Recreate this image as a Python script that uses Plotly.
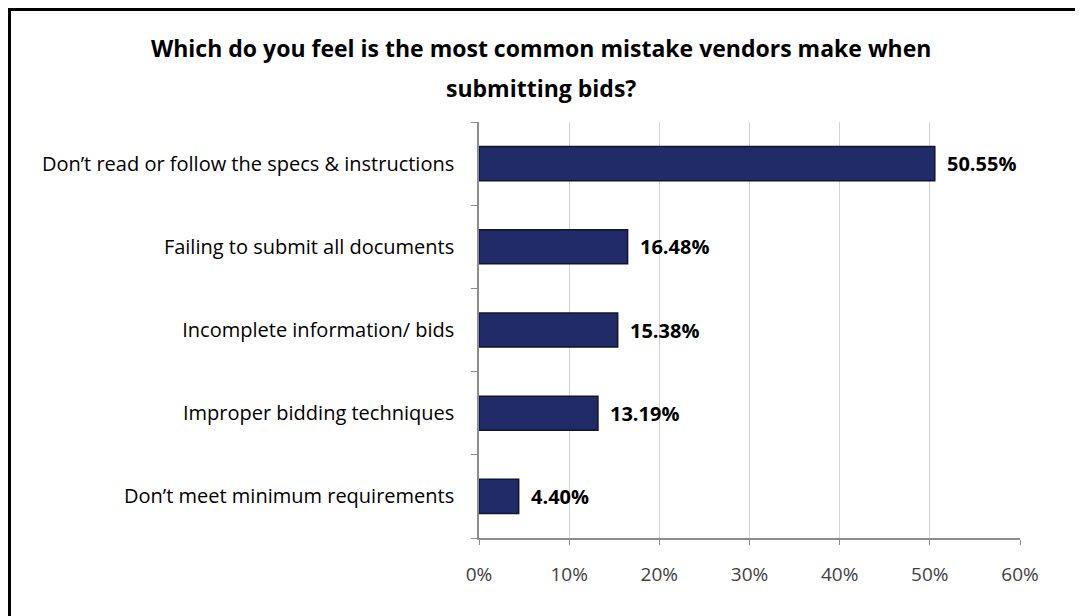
import plotly.graph_objects as go

categories = [
    "Don’t read or follow the specs & instructions",
    "Failing to submit all documents",
    "Incomplete information/ bids",
    "Improper bidding techniques",
    "Don’t meet minimum requirements",
]
values = [50.55, 16.48, 15.38, 13.19, 4.40]
labels = ["50.55%", "16.48%", "15.38%", "13.19%", "4.40%"]
x_ticks = [0, 10, 20, 30, 40, 50, 60]
x_tick_labels = ["0%", "10%", "20%", "30%", "40%", "50%", "60%"]
title_lines = [
    "Which do you feel is the most common mistake vendors make when",
    "submitting bids?",
]

W, H = 1083, 616
L, R, T, B = 471, 71, 114, 86
pw, ph = W - L - R, H - T - B

def px_x(p):
    return (p - L) / pw

def px_y(p):
    return 1 - (p - T) / ph

FONT = "Open Sans"

fig = go.Figure()
fig.add_trace(go.Bar(
    y=categories,
    x=values,
    orientation="h",
    marker=dict(color="#212b67", line=dict(color="#0f1433", width=1.5)),
    width=0.41,
    hoverinfo="x+y",
))

for c, v, t in zip(categories, values, labels):
    fig.add_annotation(
        x=v, y=c, xref="x", yref="y",
        text=t, showarrow=False,
        xanchor="left", yanchor="middle", xshift=10,
        font=dict(family=FONT, size=20, color="#000000", weight="bold"),
    )

for i, line in enumerate(title_lines):
    fig.add_annotation(
        x=px_x(533), y=px_y(40 + 40 * i), xref="paper", yref="paper",
        text=line, showarrow=False,
        xanchor="center", yanchor="middle",
        font=dict(family=FONT, size=23, color="#000000", weight="bold"),
    )

fig.update_layout(
    width=W, height=H,
    margin=dict(l=L, r=R, t=T, b=B, autoexpand=False),
    paper_bgcolor="white",
    plot_bgcolor="white",
    showlegend=False,
    xaxis=dict(
        range=[0, 60],
        tickvals=x_ticks,
        ticktext=x_tick_labels,
        showgrid=True,
        gridcolor="#d4d4d4",
        gridwidth=1,
        zeroline=False,
        showline=True,
        linecolor="#8c8c8c",
        linewidth=1.5,
        ticks="outside",
        ticklen=5,
        tickcolor="#8c8c8c",
        tickfont=dict(family=FONT, size=19, color="#404040"),
        ticklabelstandoff=13,
    ),
    yaxis=dict(
        categoryorder="array",
        categoryarray=categories[::-1],
        autorange=False,
        range=[-0.5, 4.5],
        showline=True,
        linecolor="#8c8c8c",
        linewidth=1.5,
        ticks="outside",
        ticklen=6,
        tickcolor="#8c8c8c",
        tickson="boundaries",
        showgrid=False,
        tickfont=dict(family=FONT, size=20, color="#000000"),
        ticklabelstandoff=19,
    ),
    font=dict(family=FONT),
)

fig.add_shape(
    type="rect", xref="paper", yref="paper",
    x0=px_x(1.5), x1=px_x(1100), y0=px_y(640), y1=px_y(1.5),
    line=dict(color="#000000", width=3),
    fillcolor="rgba(0,0,0,0)",
    layer="above",
)

fig.write_html("out.html")
